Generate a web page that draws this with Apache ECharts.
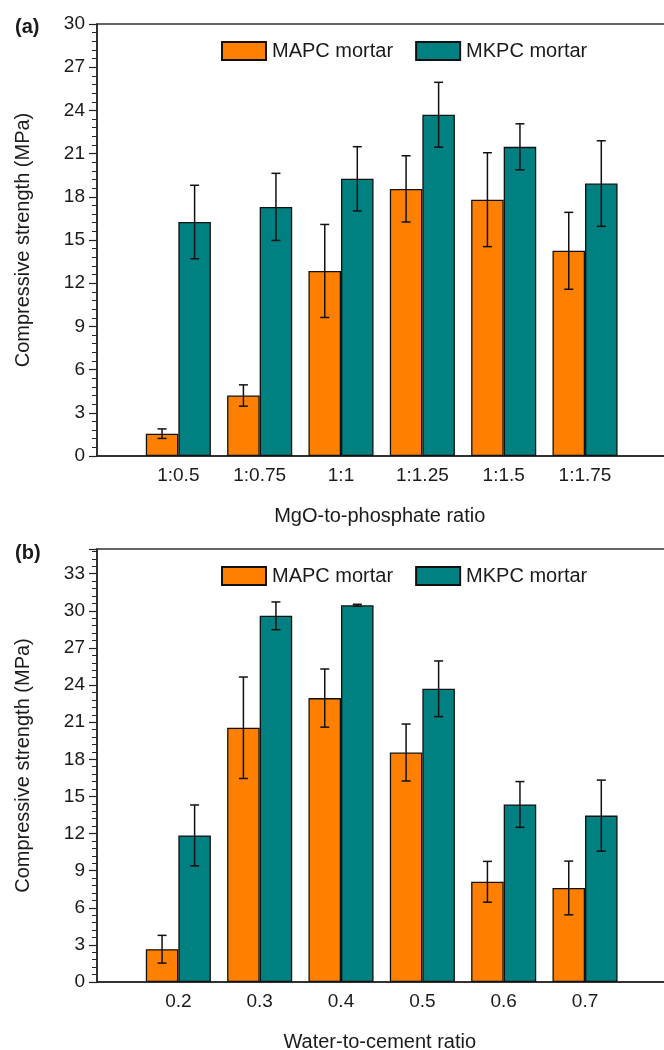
<!DOCTYPE html>
<html>
<head>
<meta charset="utf-8">
<script src="https://cdn.jsdelivr.net/npm/echarts@6/dist/echarts.min.js"></script>
<style>
html,body{margin:0;padding:0;background:#fff;overflow:hidden;}
#chart{width:664px;height:1050px;}
</style>
</head>
<body>
<div id="chart"></div>
<script>
// ---- data ----
const ratioLabels = ['1:0.5', '1:0.75', '1:1', '1:1.25', '1:1.5', '1:1.75'];
const mapcA = [1.55, 4.2, 12.85, 18.55, 17.8, 14.25];
const mapcAErr = [0.33, 0.74, 3.23, 2.3, 3.26, 2.67];
const mkpcA = [16.25, 17.3, 19.25, 23.7, 21.47, 18.92];
const mkpcAErr = [2.55, 2.33, 2.23, 2.25, 1.6, 2.97];

const wcLabels = ['0.2', '0.3', '0.4', '0.5', '0.6', '0.7'];
const mapcB = [2.65, 20.55, 22.95, 18.55, 8.1, 7.6];
const mapcBErr = [1.12, 4.1, 2.35, 2.3, 1.65, 2.17];
const mkpcB = [11.85, 29.6, 30.45, 23.7, 14.35, 13.45];
const mkpcBErr = [2.46, 1.12, 0.08, 2.25, 1.85, 2.87];

const yTicksA = {min: 0, max: 30, interval: 3};
const yTicksB = {min: 0, max: 35, interval: 3};

const seriesNames = ['MAPC mortar', 'MKPC mortar'];
const colors = ['#FF8000', '#008080'];

// ---- helpers ----
const FONT = "'Liberation Sans', Arial, sans-serif";
const TXT = '#1a1a1a';
const X_MAX = 7.1;

function barData(vals) { return vals.map((v, i) => [i + 1, v]); }
function errData(vals, errs) { return vals.map((v, i) => [i + 1, v - errs[i], v + errs[i]]); }

function errSeries(vals, errs, gi, side) {
  return {
    type: 'custom',
    xAxisIndex: gi, yAxisIndex: gi,
    data: errData(vals, errs),
    encode: {x: 0, y: [1, 2]},
    z: 10,
    silent: true,
    renderItem: function (params, api) {
      const xv = api.value(0);
      const off = api.size([0.2, 0])[0] * side;
      const lo = api.coord([xv, api.value(1)]);
      const hi = api.coord([xv, api.value(2)]);
      const x = lo[0] + off;
      const cap = 4.5;
      const st = {stroke: '#111', lineWidth: 1.5, fill: null};
      return {
        type: 'group',
        children: [
          {type: 'line', shape: {x1: x, y1: lo[1], x2: x, y2: hi[1]}, style: st},
          {type: 'line', shape: {x1: x - cap, y1: lo[1], x2: x + cap, y2: lo[1]}, style: st},
          {type: 'line', shape: {x1: x - cap, y1: hi[1], x2: x + cap, y2: hi[1]}, style: st}
        ]
      };
    }
  };
}

function barSeries(name, vals, gi, ci) {
  return {
    name: name,
    type: 'bar',
    xAxisIndex: gi, yAxisIndex: gi,
    data: barData(vals),
    barWidth: '40%',
    barGap: '0%',
    itemStyle: {color: colors[ci], borderColor: '#111', borderWidth: 1.3},
    emphasis: {disabled: true}
  };
}

function xAxis(gi, labels, name) {
  return {
    type: 'value', gridIndex: gi, min: 0, max: X_MAX, interval: 1,
    name: name, nameLocation: 'middle', nameGap: 50,
    nameTextStyle: {fontFamily: FONT, fontSize: 20, color: TXT, padding: [0, 12, 0, 0]},
    axisLine: {show: true, onZero: false, lineStyle: {color: '#222', width: 1.5}},
    axisTick: {show: false},
    splitLine: {show: false},
    axisLabel: {
      fontFamily: FONT, fontSize: 19, color: TXT, margin: 10,
      formatter: function (v) { return Number.isInteger(v) ? (labels[v - 1] || '') : ''; }
    }
  };
}

function yAxis(gi, t) {
  return {
    type: 'value', gridIndex: gi, min: t.min, max: t.max, interval: t.interval,
    name: 'Compressive strength (MPa)', nameLocation: 'middle', nameGap: 64,
    nameTextStyle: {fontFamily: FONT, fontSize: 20, color: TXT},
    axisLine: {show: true, lineStyle: {color: '#222', width: 1.5}},
    axisTick: {show: true, length: 8, lineStyle: {color: '#222', width: 1.2}},
    minorTick: {show: true, splitNumber: 5, length: 5, lineStyle: {color: '#222', width: 1}},
    splitLine: {show: false},
    axisLabel: {
      fontFamily: FONT, fontSize: 19, color: TXT, margin: 12,
      showMaxLabel: t.max % t.interval === 0,
      formatter: function (v) { return (v % t.interval === 0) ? String(v) : ''; }
    }
  };
}

const chart = echarts.init(document.getElementById('chart'), null, {renderer: 'canvas'});
chart.setOption({
  backgroundColor: '#fff',
  animation: false,
  title: [
    {text: '(a)', left: 10, top: 12, textStyle: {fontFamily: FONT, fontSize: 20, fontWeight: 'bold', color: TXT}},
    {text: '(b)', left: 10, top: 538, textStyle: {fontFamily: FONT, fontSize: 20, fontWeight: 'bold', color: TXT}}
  ],
  legend: [
    {data: seriesNames, left: 216, top: 36, itemWidth: 44, itemHeight: 18, itemGap: 22,
     textStyle: {fontFamily: FONT, fontSize: 20, color: TXT, padding: [0, 0, 0, 1]}, icon: 'rect', selectedMode: false},
    {data: seriesNames, left: 216, top: 561, itemWidth: 44, itemHeight: 18, itemGap: 22,
     textStyle: {fontFamily: FONT, fontSize: 20, color: TXT, padding: [0, 0, 0, 1]}, icon: 'rect', selectedMode: false}
  ],
  grid: [
    {left: 97, top: 24, width: 577.5, height: 432, outerBoundsMode: 'none', containLabel: false,
     show: true, borderColor: '#333', borderWidth: 1.5, backgroundColor: 'transparent'},
    {left: 97, top: 549, width: 577.5, height: 433, outerBoundsMode: 'none', containLabel: false,
     show: true, borderColor: '#333', borderWidth: 1.5, backgroundColor: 'transparent'}
  ],
  xAxis: [xAxis(0, ratioLabels, 'MgO-to-phosphate ratio'), xAxis(1, wcLabels, 'Water-to-cement ratio')],
  yAxis: [yAxis(0, yTicksA), yAxis(1, yTicksB)],
  series: [
    barSeries(seriesNames[0], mapcA, 0, 0),
    barSeries(seriesNames[1], mkpcA, 0, 1),
    errSeries(mapcA, mapcAErr, 0, -1),
    errSeries(mkpcA, mkpcAErr, 0, 1),
    barSeries(seriesNames[0], mapcB, 1, 0),
    barSeries(seriesNames[1], mkpcB, 1, 1),
    errSeries(mapcB, mapcBErr, 1, -1),
    errSeries(mkpcB, mkpcBErr, 1, 1)
  ]
});
</script>
</body>
</html>
